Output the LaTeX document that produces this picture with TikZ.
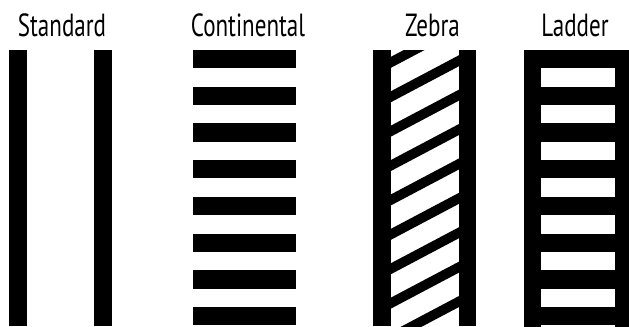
\documentclass[tikz,border=0pt]{standalone}
\usepackage{fontspec}
\setmainfont{PT Sans}[FakeStretch=0.72]

\begin{document}
\begin{tikzpicture}[x=0.75pt, y=-0.75pt, lab/.style={font=\fontsize{24}{28}\selectfont, anchor=base, inner sep=0pt}]
	\useasboundingbox (0,0) rectangle (629,326);
	\clip (0,0) rectangle (629,326);
	% labels
	\node[lab] (lstd) at (62,36) {Standard};
	\node[lab] (lcont) at (248,36) {Continental};
	\node[lab] (lzebra) at (432.5,36) {Zebra};
	\node[lab] (lladder) at (575,36) {Ladder};
	% standard
	\fill (9,49.5) rectangle (27,326);
	\fill (94.3,49.5) rectangle (112.3,326);
	% continental
	\foreach \k in {0,...,7} {\fill (193.3,{50+36.7*\k}) rectangle (295.7,{68.3+36.7*\k});}
	% zebra
	\fill (373,49.5) rectangle (390.5,326);
	\fill (458.5,49.5) rectangle (476,326);
	\begin{scope}
		\clip (390,50) rectangle (459,326);
		\foreach \k in {-1,...,8} {\fill (390,{68.3+34.4*\k}) -- (459,{31.8+34.4*\k}) -- (459,{20.8+34.4*\k}) -- (390,{57.3+34.4*\k}) -- cycle;}
	\end{scope}
	% ladder
	\fill (524,49.5) rectangle (632,330);
	\foreach \k in {0,...,7} {\fill[white] (541,{68.3+36.7*\k}) rectangle (615,{86.7+36.7*\k});}
\end{tikzpicture}
\end{document}
